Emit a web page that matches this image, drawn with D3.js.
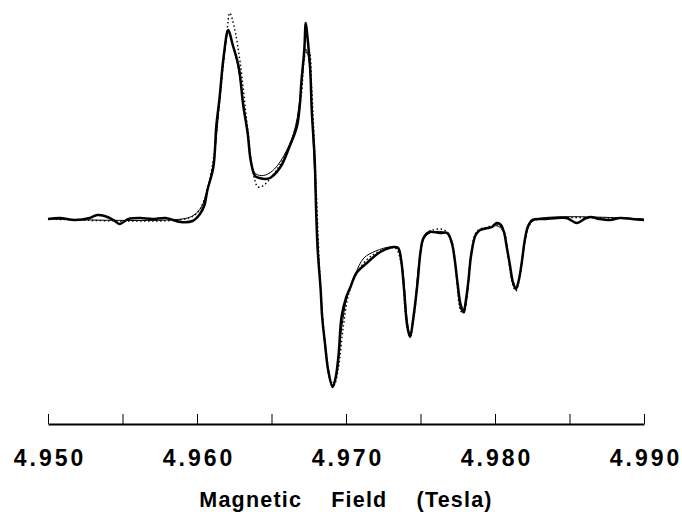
<!DOCTYPE html>
<html>
<head>
<meta charset="utf-8">
<script src="https://cdn.jsdelivr.net/npm/d3@7"></script>
<style>
  body { margin: 0; background: #fff; }
  svg { display: block; }
</style>
</head>
<body>
<div id="d3-container"></div>
<script>
/**
 * CONSTANTS AND GLOBALS
 * */
const width = 682,
    height = 512,
    margin = { top: 19, bottom: 88, left: 48, right: 38 };

// x ticks (Tesla) and which of them get a label
const xTicks = [4.950, 4.955, 4.960, 4.965, 4.970, 4.975, 4.980, 4.985, 4.990];
const xLabels = [4.950, 4.960, 4.970, 4.980, 4.990];

// measured spectrum: field (T) and signal (arb. units)
const expField = [4.9500, 4.9508, 4.9518, 4.9528, 4.9533, 4.9538, 4.9544, 4.9548, 4.9554, 4.9562,
    4.9570, 4.9579, 4.9589, 4.9597, 4.9602, 4.9605, 4.9607, 4.9611, 4.9613, 4.9615,
    4.9618, 4.9621, 4.9624, 4.9628, 4.9631, 4.9634, 4.9636, 4.9639, 4.9642, 4.9646,
    4.9649, 4.9656, 4.9662, 4.9667, 4.9669, 4.9670, 4.9672, 4.9673, 4.9674, 4.9676,
    4.9677, 4.9679, 4.9680, 4.9681, 4.9683, 4.9684, 4.9686, 4.9688, 4.9691, 4.9693,
    4.9695, 4.9697, 4.9700, 4.9703, 4.9707, 4.9714, 4.9723, 4.9732, 4.9735, 4.9737,
    4.9739, 4.9741, 4.9743, 4.9745, 4.9748, 4.9750, 4.9752, 4.9756, 4.9763, 4.9768,
    4.9771, 4.9773, 4.9775, 4.9777, 4.9779, 4.9780, 4.9782, 4.9784, 4.9787, 4.9790,
    4.9795, 4.9798, 4.9801, 4.9804, 4.9806, 4.9808, 4.9810, 4.9812, 4.9814, 4.9816,
    4.9818, 4.9820, 4.9822, 4.9825, 4.9834, 4.9842, 4.9848, 4.9855, 4.9860, 4.9864,
    4.9870, 4.9877, 4.9884, 4.9892, 4.9900];
const expSignal = [0.00, 0.005, -0.005, 0.005, 0.02, 0.015, -0.005, -0.025, 0.0, 0.005,
    0.0, 0.005, -0.015, -0.01, 0.025, 0.07, 0.145, 0.26, 0.47, 0.595,
    0.82, 0.945, 0.87, 0.76, 0.57, 0.43, 0.295, 0.215, 0.205, 0.20,
    0.205, 0.26, 0.36, 0.46, 0.57, 0.68, 0.845, 0.98, 0.92, 0.745,
    0.545, 0.295, 0.03, -0.155, -0.355, -0.49, -0.63, -0.755, -0.84, -0.795,
    -0.68, -0.49, -0.395, -0.34, -0.27, -0.22, -0.165, -0.14, -0.145, -0.205,
    -0.355, -0.53, -0.59, -0.505, -0.32, -0.165, -0.095, -0.065, -0.07, -0.07,
    -0.12, -0.205, -0.33, -0.43, -0.465, -0.43, -0.32, -0.18, -0.08, -0.055,
    -0.045, -0.04, -0.02, -0.03, -0.065, -0.145, -0.23, -0.315, -0.35, -0.305,
    -0.215, -0.105, -0.04, -0.005, 0.0, 0.005, 0.005, -0.02, 0.0, 0.01,
    0.0, -0.005, 0.005, 0.0, -0.005];

// simulation 1 (thin solid line)
const simAField = [4.9500, 4.9590, 4.9598, 4.9603, 4.9607, 4.9611, 4.9615, 4.9618, 4.9621, 4.9624,
    4.9628, 4.9634, 4.9638, 4.9641, 4.9646, 4.9652, 4.9660, 4.9666, 4.9670, 4.9673,
    4.9675, 4.9677, 4.9680, 4.9683, 4.9686, 4.9689, 4.9691, 4.9694, 4.9697, 4.9701,
    4.9706, 4.9712, 4.9720, 4.9730, 4.9735, 4.9738, 4.9741, 4.9743, 4.9746, 4.9749,
    4.9753, 4.9758, 4.9767, 4.9771, 4.9774, 4.9777, 4.9779, 4.9781, 4.9784, 4.9788,
    4.9795, 4.9802, 4.9806, 4.9809, 4.9812, 4.9814, 4.9817, 4.9820, 4.9823, 4.9828,
    4.9900];
const simASignal = [0, 0, 0.02, 0.06, 0.15, 0.28, 0.58, 0.80, 0.93, 0.87,
    0.74, 0.42, 0.24, 0.22, 0.22, 0.25, 0.34, 0.46, 0.66, 0.85,
    0.80, 0.55, 0.05, -0.36, -0.64, -0.80, -0.83, -0.76, -0.55, -0.38,
    -0.28, -0.195, -0.16, -0.14, -0.15, -0.25, -0.50, -0.58, -0.45, -0.22,
    -0.09, -0.065, -0.07, -0.12, -0.27, -0.45, -0.47, -0.40, -0.18, -0.07,
    -0.045, -0.035, -0.07, -0.19, -0.32, -0.345, -0.27, -0.12, -0.03, 0,
    0];

// simulation 2 (dotted line)
const simBField = [4.9500, 4.9592, 4.9600, 4.9606, 4.9611, 4.9616, 4.9620, 4.9622, 4.9625, 4.9629,
    4.9634, 4.9638, 4.9641, 4.9645, 4.9652, 4.9660, 4.9666, 4.9670, 4.9673, 4.9675,
    4.9677, 4.9680, 4.9683, 4.9686, 4.9690, 4.9692, 4.9695, 4.9698, 4.9702, 4.9708,
    4.9716, 4.9725, 4.9733, 4.9737, 4.9740, 4.9743, 4.9746, 4.9749, 4.9753, 4.9758,
    4.9766, 4.9771, 4.9774, 4.9777, 4.9779, 4.9781, 4.9784, 4.9788, 4.9795, 4.9802,
    4.9806, 4.9809, 4.9812, 4.9814, 4.9817, 4.9820, 4.9824, 4.9830, 4.9900];
const simBSignal = [0, 0, 0.03, 0.12, 0.30, 0.65, 0.93, 1.03, 0.96, 0.78,
    0.45, 0.22, 0.16, 0.17, 0.23, 0.33, 0.45, 0.62, 0.83, 0.84,
    0.65, 0.15, -0.35, -0.62, -0.81, -0.83, -0.74, -0.55, -0.37, -0.26,
    -0.19, -0.155, -0.145, -0.22, -0.48, -0.59, -0.47, -0.23, -0.08, -0.055,
    -0.055, -0.11, -0.28, -0.46, -0.47, -0.40, -0.17, -0.06, -0.04, -0.03,
    -0.06, -0.20, -0.33, -0.36, -0.27, -0.11, -0.02, 0, 0];

const zip = (xs, ys) => xs.map((x, i) => ({ x, y: ys[i] }));

/**
 * INITIALIZING
 * */
const svg = d3
    .select("#d3-container")
    .append("svg")
    .attr("width", width)
    .attr("height", height);

const xScale = d3.scaleLinear()
    .domain([4.950, 4.990])
    .range([margin.left, width - margin.right]);

// baseline sits at y = 219
const yScale = d3.scaleLinear()
    .domain([-1, 1])
    .range([419, 19]);

const line = d3.line()
    .x(d => xScale(d.x))
    .y(d => yScale(d.y))
    .curve(d3.curveCatmullRom.alpha(0.5));

// dotted simulation
svg.append("path")
    .datum(zip(simBField, simBSignal))
    .attr("d", line)
    .attr("fill", "none")
    .attr("stroke", "#000")
    .attr("stroke-width", 1.4)
    .attr("stroke-dasharray", "1.5,2.5");

// thin simulation
svg.append("path")
    .datum(zip(simAField, simASignal))
    .attr("d", line)
    .attr("fill", "none")
    .attr("stroke", "#000")
    .attr("stroke-width", 1);

// experiment, heavy line
svg.append("path")
    .datum(zip(expField, expSignal))
    .attr("d", line)
    .attr("fill", "none")
    .attr("stroke", "#000")
    .attr("stroke-width", 2.5)
    .attr("stroke-linejoin", "round");

// x axis: ticks point upward, labels every 0.010
const xAxis = d3.axisBottom(xScale)
    .tickValues(xTicks)
    .tickSizeInner(-10)
    .tickSizeOuter(0)
    .tickPadding(26)
    .tickFormat(d => xLabels.some(v => Math.abs(v - d) < 1e-9) ? d3.format(".3f")(d) : "");

const axisG = svg.append("g")
    .attr("transform", "translate(0,424)")
    .call(xAxis);

axisG.select(".domain").attr("stroke", "#000").attr("stroke-width", 1.8);
axisG.selectAll(".tick line").attr("stroke", "#000").attr("stroke-width", 1);
axisG.selectAll(".tick text")
    .attr("fill", "#000")
    .attr("dx", "1.5px")
    .style("font-family", "'Liberation Sans', Arial, sans-serif")
    .style("font-weight", "bold")
    .style("font-size", "23px")
    .style("letter-spacing", "3px");

// axis title
svg.append("text")
    .attr("x", xScale(4.970))
    .attr("y", 507)
    .attr("text-anchor", "middle")
    .style("font-family", "'Liberation Sans', Arial, sans-serif")
    .style("font-weight", "bold")
    .style("font-size", "21.5px")
    .style("letter-spacing", "1.2px")
    .style("word-spacing", "22px")
    .text("Magnetic Field (Tesla)");
</script>
</body>
</html>
